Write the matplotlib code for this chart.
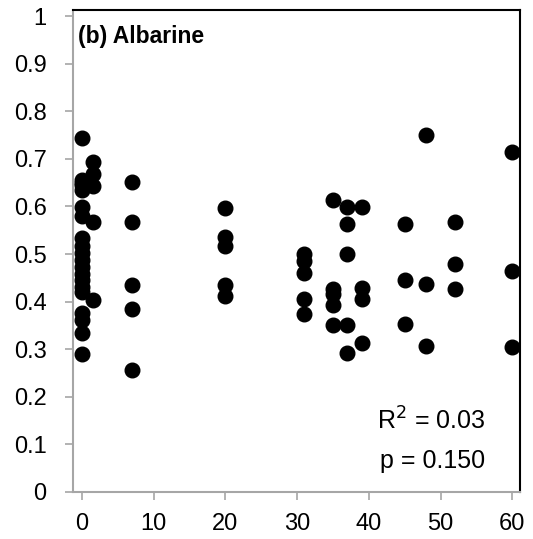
import matplotlib
matplotlib.use("Agg")
import matplotlib.pyplot as plt

plt.rcParams['font.family'] = ['Liberation Sans', 'DejaVu Sans']

# distance (x) and values (y)
x_vals = [0, 0, 0, 0, 0, 0, 0, 0, 0, 0, 0, 0, 0, 0, 0, 0, 0, 0, 0, 0,
          1.5, 1.5, 1.5, 1.5, 1.5,
          7, 7, 7, 7, 7,
          20, 20, 20, 20, 20,
          31, 31, 31, 31, 31,
          35, 35, 35, 35, 35,
          37, 37, 37, 37, 37,
          39, 39, 39, 39,
          45, 45, 45,
          48, 48, 48,
          52, 52, 52,
          60, 60, 60]
y_vals = [0.743, 0.656, 0.645, 0.635, 0.598, 0.579, 0.533, 0.516, 0.502, 0.488,
          0.473, 0.459, 0.445, 0.431, 0.42, 0.377, 0.361, 0.333, 0.29, 0.65,
          0.693, 0.668, 0.642, 0.568, 0.403,
          0.652, 0.567, 0.434, 0.384, 0.257,
          0.597, 0.535, 0.516, 0.435, 0.412,
          0.501, 0.486, 0.461, 0.405, 0.374,
          0.613, 0.426, 0.416, 0.393, 0.351,
          0.598, 0.564, 0.499, 0.351, 0.293,
          0.598, 0.429, 0.405, 0.313,
          0.564, 0.446, 0.354,
          0.75, 0.437, 0.306,
          0.568, 0.479, 0.426,
          0.715, 0.465, 0.304]

x_ticks = [0, 10, 20, 30, 40, 50, 60]
y_ticks = [0, 0.1, 0.2, 0.3, 0.4, 0.5, 0.6, 0.7, 0.8, 0.9, 1]
y_labels = ['0', '0.1', '0.2', '0.3', '0.4', '0.5', '0.6', '0.7', '0.8', '0.9', '1']

fig = plt.figure(figsize=(5.33, 5.39), dpi=100)
ax = fig.add_axes([0.137, 0.0872, 0.839, 0.8942])

ax.plot(x_vals, y_vals, 'o', color='black', markersize=10.5, clip_on=False)

ax.set_xlim(-1.25, 61.1)
ax.set_ylim(0, 1.0126)
ax.set_xticks(x_ticks)
ax.set_yticks(y_ticks)
ax.set_yticklabels(y_labels)

ax.tick_params(axis='both', labelsize=17, color='#a6a6a6', length=6, width=1.2)
ax.tick_params(axis='x', pad=9)
ax.tick_params(axis='y', pad=13)

for side in ['left', 'bottom']:
    ax.spines[side].set_color('#a6a6a6')
    ax.spines[side].set_linewidth(1.5)
for side in ['top', 'right']:
    ax.spines[side].set_color('black')
    ax.spines[side].set_linewidth(1.5)

ax.text(0.012, 0.945, '(b) Albarine', transform=ax.transAxes, fontsize=16.5,
        fontweight='bold', va='center', ha='left')
ax.text(56.2, 0.15, 'R$^2$ = 0.03', fontsize=18, va='center', ha='right')
ax.text(56.2, 0.066, 'p = 0.150', fontsize=18, va='center', ha='right')

fig.savefig('out.png', dpi=100)
